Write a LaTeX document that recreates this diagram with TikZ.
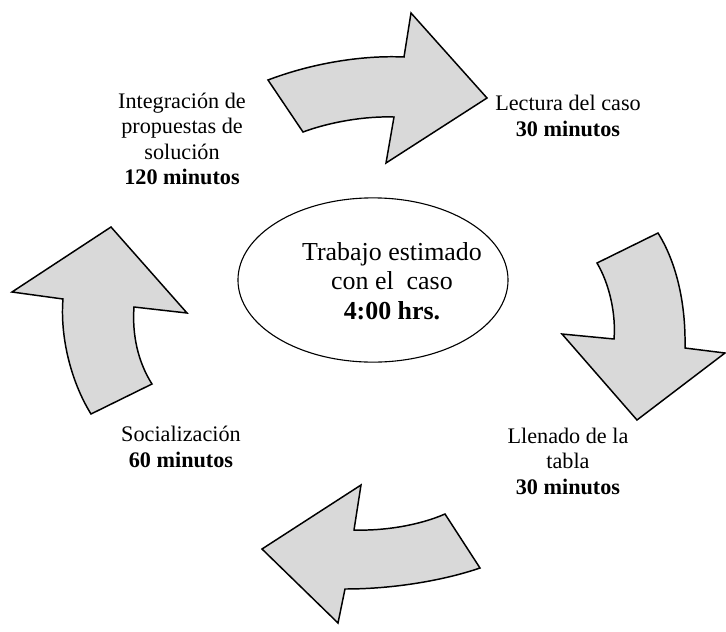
\documentclass[tikz,border=0pt]{standalone}
\usepackage{fontspec}
\setmainfont{Liberation Serif}
\usetikzlibrary{shapes.geometric}
\definecolor{relleno}{gray}{0.85}

\begin{document}
\begin{tikzpicture}[x=0.019cm, y=-0.019cm,
        flecha/.style = {draw=black, thick, fill=relleno},
        etiqueta/.style = {align=center, inner sep=0pt, font=\fontsize{12}{13.8}\selectfont},
        elipse/.style = {ellipse, draw, semithick, minimum width=5.13cm, minimum height=3.12cm}]

        % \draw [help lines] (0,0) grid (726,632);
        \useasboundingbox (0,0) rectangle (726,632);

        % flechas curvas
        \draw[flecha] (268,80) .. controls (310,64) and (360,55) .. (404,57)
                -- (411,13) -- (487,98) -- (386,163) -- (394,117)
                .. controls (365,116) and (330,122) .. (303,132) -- cycle;
        \draw[flecha] (614,339) .. controls (616,315) and (610,285) .. (597,263)
                -- (658,233) .. controls (675,260) and (686,300) .. (685,348)
                -- (725,353) -- (637,420) -- (562,334) -- cycle;
        \draw[flecha] (354,530) .. controls (385,531) and (420,525) .. (445,514)
                -- (480,568) .. controls (445,580) and (395,589) .. (345,589)
                -- (338,623) -- (262,549) -- (361,485) -- cycle;
        \draw[flecha] (63,299) .. controls (60,335) and (70,380) .. (91,414)
                -- (152,384) .. controls (138,362) and (132,335) .. (134,307)
                -- (187,313) -- (111,227) -- (12,292) -- cycle;

        \path   (373,280) node (centro) [elipse] {}
                (392,281) node (estimado) [etiqueta, font=\fontsize{14}{16}\selectfont]
                        {Trabajo estimado\\ con el \ caso\\ \textbf{4:00 hrs.}}
                (568,116) node (lectura) [etiqueta]
                        {Lectura del caso\\ \textbf{30 minutos}}
                (568,461) node (llenado) [etiqueta]
                        {Llenado de la\\ tabla\\ \textbf{30 minutos}}
                (181,447) node (socializacion) [etiqueta]
                        {Socialización\\ \textbf{60 minutos}}
                (182,139) node (integracion) [etiqueta]
                        {Integración de\\ propuestas de\\ solución\\ \textbf{120 minutos}};

\end{tikzpicture}
\end{document}
